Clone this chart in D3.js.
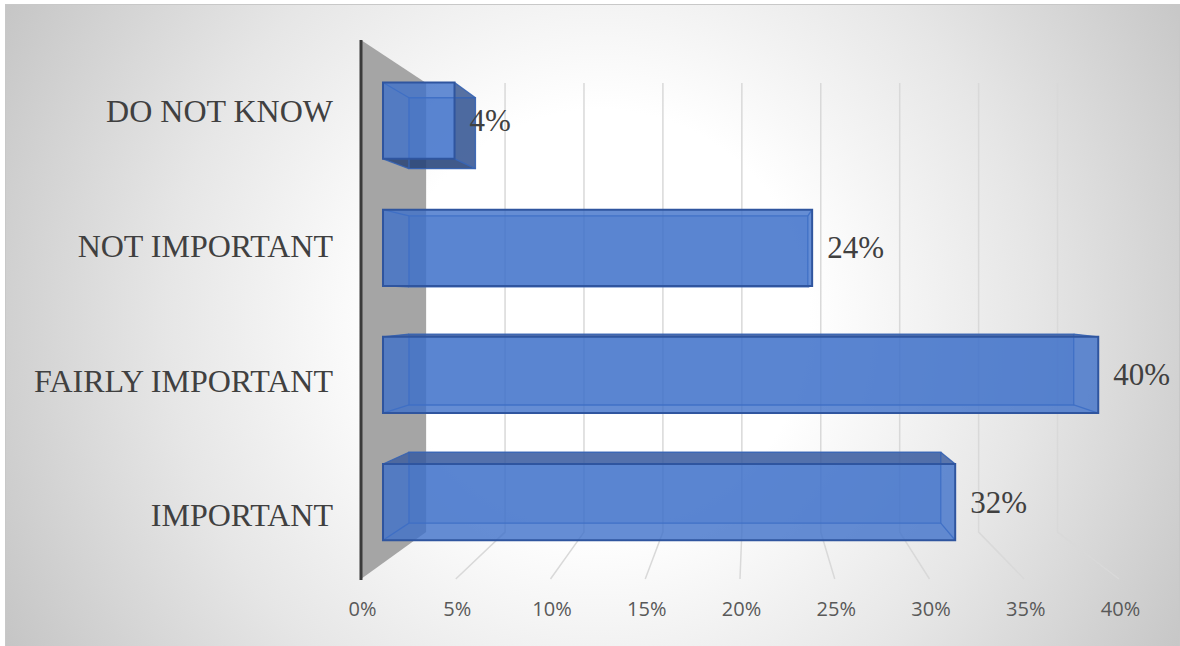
<!DOCTYPE html>
<html>
<head>
<meta charset="utf-8">
<script src="https://cdn.jsdelivr.net/npm/d3@7"></script>
<style>
  html, body { margin: 0; padding: 0; background: #ffffff; }
  svg { display: block; }
</style>
</head>
<body>
<svg id="chart" width="1180" height="646"></svg>
<script>
// Survey answers, listed from the top of the chart to the bottom
const categories = ["DO NOT KNOW", "NOT IMPORTANT", "FAIRLY IMPORTANT", "IMPORTANT"];
const shares = [0.04, 0.24, 0.40, 0.32];
const tickValues = [0, 0.05, 0.10, 0.15, 0.20, 0.25, 0.30, 0.35, 0.40];
const tickLabels = ["0%", "5%", "10%", "15%", "20%", "25%", "30%", "35%", "40%"];

const svg = d3.select("#chart");

// Simple perspective: points laid out on the front plane are pulled toward
// a vanishing point as they move deeper into the box.
const VX = 751, VY = 298;
const DEPTH = { front: 1, near: 0.9436, far: 0.877, back: 0.833 };
const proj = (xf, yf, s) => [VX + (xf - VX) * s, VY + (yf - VY) * s];

const x = d3.scaleLinear().domain([0, 0.4]).range([361, 1119]);
const y = d3.scaleBand().domain(categories).range([40, 579])
  .paddingInner(0.4).paddingOuter(0.2).align(0.55);
const yTop = y.range()[0], yBot = y.range()[1];

// ---- background -------------------------------------------------------
const defs = svg.append("defs");
const bg = defs.append("radialGradient").attr("id", "bgGrad")
  .attr("gradientUnits", "userSpaceOnUse")
  .attr("cx", 600).attr("cy", 320).attr("r", 700);
bg.append("stop").attr("offset", 0).attr("stop-color", "#ffffff");
bg.append("stop").attr("offset", 0.3).attr("stop-color", "#ffffff");
bg.append("stop").attr("offset", 0.62).attr("stop-color", "#e6e6e6");
bg.append("stop").attr("offset", 1).attr("stop-color", "#c2c2c2");

svg.append("rect")
  .attr("x", 5.5).attr("y", 4.5).attr("width", 1174).attr("height", 642)
  .attr("fill", "url(#bgGrad)")
  .attr("stroke", "#c8c8c8").attr("stroke-width", 1);

// ---- side wall ----------------------------------------------------------
const line = d3.line();
const wall = [
  proj(x(0), yTop, DEPTH.front), proj(x(0), yTop, DEPTH.back),
  proj(x(0), yBot, DEPTH.back), proj(x(0), yBot, DEPTH.front)
];
svg.append("path").attr("d", line(wall) + "Z").attr("fill", "#a5a5a5");

// ---- gridlines: back wall verticals plus floor lines --------------------
const grid = svg.append("g").attr("fill", "none")
  .attr("stroke", "#d9d9d9").attr("stroke-width", 1.5);
tickValues.filter(v => v > 0).forEach(v => {
  const pts = [
    proj(x(v), yTop, DEPTH.back),
    proj(x(v), yBot, DEPTH.back),
    proj(x(v), yBot, DEPTH.front)
  ];
  grid.append("path").attr("d", line(pts));
});

// ---- vertical axis line --------------------------------------------------
svg.append("line")
  .attr("x1", x(0)).attr("x2", x(0))
  .attr("y1", yTop).attr("y2", yBot + 1)
  .attr("stroke", "#3a3a3a").attr("stroke-width", 3);

// ---- bars as translucent boxes -----------------------------------------
const BASE = "#3f71c9";
const bars = svg.append("g");
categories.forEach((c, i) => {
  const v = shares[i];
  const x0 = x(0), x1 = x(v);
  const y0 = y(c), y1 = y0 + y.bandwidth();
  const N = [proj(x0, y0, DEPTH.near), proj(x1, y0, DEPTH.near),
             proj(x1, y1, DEPTH.near), proj(x0, y1, DEPTH.near)];
  const F = [proj(x0, y0, DEPTH.far), proj(x1, y0, DEPTH.far),
             proj(x1, y1, DEPTH.far), proj(x0, y1, DEPTH.far)];
  const g = bars.append("g");

  // far face
  g.append("path").attr("d", line(F) + "Z")
    .attr("fill", BASE).attr("fill-opacity", 0.3);

  // side faces that turn toward the viewer
  const sides = [];
  if (y0 > VY) sides.push({ pts: [N[0], N[1], F[1], F[0]], fill: "#3a5c9e" });
  if (y1 < VY) sides.push({ pts: [N[3], N[2], F[2], F[3]], fill: "#233f74" });
  if (x1 < VX) sides.push({ pts: [N[1], N[2], F[2], F[1]], fill: "#33538f" });
  if (x0 > VX) sides.push({ pts: [N[0], N[3], F[3], F[0]], fill: "#3a62aa" });
  sides.forEach(s => g.append("path").attr("d", line(s.pts) + "Z")
    .attr("fill", s.fill).attr("fill-opacity", 0.82));

  // inner edges (far face outline and depth edges)
  const inner = g.append("g").attr("fill", "none")
    .attr("stroke", "#3563b4").attr("stroke-width", 1.3).attr("stroke-opacity", 0.9);
  inner.append("path").attr("d", line(F) + "Z");
  for (let k = 0; k < 4; k++) inner.append("path").attr("d", line([N[k], F[k]]));

  // near face
  g.append("path").attr("d", line(N) + "Z")
    .attr("fill", BASE).attr("fill-opacity", 0.8)
    .attr("stroke", "#2f559f").attr("stroke-width", 2);

  // value label just past the bar end
  const lp = proj(x1, (y0 + y1) / 2, DEPTH.near);
  svg.append("text")
    .attr("x", lp[0] + 15).attr("y", lp[1])
    .attr("dominant-baseline", "central")
    .attr("font-family", "'Liberation Serif', 'Times New Roman', serif")
    .attr("font-size", 31).attr("fill", "#404040")
    .text(d3.format(".0%")(v));
});

// ---- category labels ---------------------------------------------------
svg.append("g").selectAll("text").data(categories).join("text")
  .attr("x", 333)
  .attr("y", d => y(d) + y.bandwidth() / 2 + 1)
  .attr("text-anchor", "end")
  .attr("dominant-baseline", "central")
  .attr("font-family", "'Liberation Serif', 'Times New Roman', serif")
  .attr("font-size", 32).attr("fill", "#404040")
  .text(d => d);

// ---- value axis tick labels -------------------------------------------
const axis = d3.axisBottom(x)
  .tickValues(tickValues)
  .tickFormat((d, i) => tickLabels[i])
  .tickSize(0).tickPadding(21);
const ax = svg.append("g").attr("transform", `translate(1,${yBot + 2})`).call(axis);
ax.select(".domain").remove();
ax.selectAll("text")
  .attr("font-family", "'Open Sans', 'Noto Sans', sans-serif")
  .attr("font-size", 20).attr("fill", "#595959");
</script>
</body>
</html>
